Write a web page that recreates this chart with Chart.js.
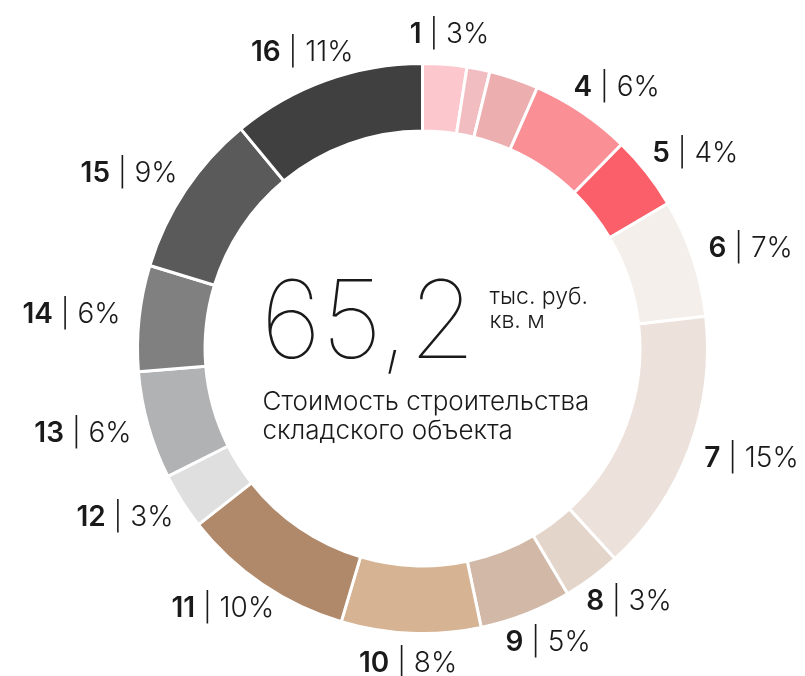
<!DOCTYPE html>
<html>
<head>
<meta charset="utf-8">
<script src="https://cdn.jsdelivr.net/npm/chart.js@4/dist/chart.umd.min.js"></script>
<style>
html,body{margin:0;padding:0;background:#fff;}
#wrap{width:805px;height:676px;position:relative;}
</style>
</head>
<body>
<div id="wrap"><canvas id="c" width="805" height="676"></canvas></div>
<script>
const categories = ['1','2','3','4','5','6','7','8','9','10','11','12','13','14','15','16'];
const shares = [2.5, 1.3, 2.8, 5.7, 4.2, 6.7, 15.0, 3.3, 5.2, 7.9, 9.8, 3.2, 6.1, 6.0, 9.3, 11.0];
const percentLabels = ['3%', null, null, '6%', '4%', '7%', '15%', '3%', '5%', '8%', '10%', '3%', '6%', '6%', '9%', '11%'];
const colors = ['#FCC8CD','#F2BDC0','#EDAEAF','#FA9096','#FB5F69','#F4EFEA','#ECE1DB','#E4D5CA','#D2B9A7','#D5B393','#B0886A','#DFDFDF','#B1B2B4','#808080','#5A5A5A','#404040'];
const centerValue = '65,2';
const centerUnit = ['тыс. руб.', 'кв. м'];
const centerCaption = ['Стоимость строительства', 'складского объекта'];

const FONT = 'Inter, "Open Sans", sans-serif';
const TEXT = '#1a1a1a';

const labelPlugin = {
  id: 'labels',
  afterDraw(chart) {
    const ctx = chart.ctx;
    const meta = chart.getDatasetMeta(0);
    ctx.save();
    ctx.textBaseline = 'middle';
    meta.data.forEach((arc, i) => {
      const p = percentLabels[i];
      if (!p) return;
      const mid = (arc.startAngle + arc.endAngle) / 2;
      const ux = Math.cos(mid), uy = Math.sin(mid);
      const r = arc.outerRadius + 19;
      const ax = arc.x + ux * r, ay = arc.y + uy * r;
      ctx.font = '600 28px ' + FONT;
      const numText = categories[i];
      const w1 = ctx.measureText(numText).width;
      ctx.font = '300 28px ' + FONT;
      const restText = ' | ' + p;
      const w2 = ctx.measureText(restText).width;
      const w = w1 + w2, h = 22;
      const cx = ax + ux * w / 2, cy = ay + uy * h / 2;
      const left = cx - w / 2;
      ctx.fillStyle = TEXT;
      ctx.textAlign = 'left';
      ctx.font = '600 28px ' + FONT;
      ctx.fillText(numText, left, cy);
      ctx.font = '300 28px ' + FONT;
      ctx.fillText(restText, left + w1, cy);
    });
    // center texts
    const a = meta.data[0];
    const x0 = a.x, y0 = a.y;
    ctx.fillStyle = TEXT;
    ctx.textAlign = 'left';
    ctx.textBaseline = 'alphabetic';
    ctx.font = '100 108px ' + FONT;
    ctx.fillText(centerValue, x0 - 162, y0 + 9);
    ctx.font = '300 23px ' + FONT;
    ctx.fillText(centerUnit[0], x0 + 67, y0 - 45);
    ctx.fillText(centerUnit[1], x0 + 67, y0 - 21);
    ctx.font = '300 26px ' + FONT;
    ctx.fillText(centerCaption[0], x0 - 160, y0 + 61);
    ctx.fillText(centerCaption[1], x0 - 160, y0 + 90);
    ctx.restore();
  }
};

new Chart(document.getElementById('c'), {
  type: 'doughnut',
  data: {
    labels: categories,
    datasets: [{
      data: shares,
      backgroundColor: colors,
      borderColor: '#ffffff',
      borderWidth: 3,
      hoverOffset: 0
    }]
  },
  options: {
    responsive: false,
    animation: false,
    cutout: '76.3%',
    layout: { padding: { left: 136, top: 62, right: 96, bottom: 41 } },
    plugins: { legend: { display: false }, tooltip: { enabled: false } }
  },
  plugins: [labelPlugin]
});
</script>
</body>
</html>
